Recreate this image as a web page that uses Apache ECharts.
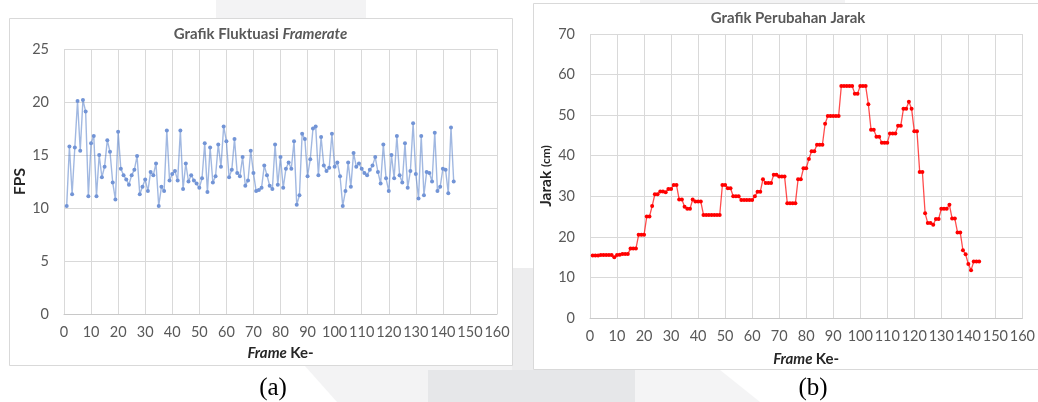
<!DOCTYPE html>
<html>
<head>
<meta charset="utf-8">
<script src="https://cdn.jsdelivr.net/npm/echarts@6/dist/echarts.min.js"></script>
<style>
  html, body { margin: 0; padding: 0; background: #fff; }
  #chart { width: 1038px; height: 402px; }
</style>
</head>
<body>
<div id="chart"></div>
<script>
// frame number for every sample (1..144)
var frames = []
for (var i = 1; i <= 144; i++) frames.push(i)

// (a) FPS per frame
var fps = [
  10.2, 15.8, 11.3, 15.7, 20.1, 15.4, 20.2, 19.1, 11.1, 16.1,
  16.8, 11.1, 15.0, 12.9, 13.9, 16.4, 15.3, 12.4, 10.8, 17.2,
  13.7, 13.1, 12.7, 12.2, 13.1, 13.6, 14.9, 11.3, 12.0, 12.7,
  11.6, 13.4, 13.1, 14.2, 10.2, 12.0, 11.6, 17.3, 12.6, 13.2,
  13.5, 12.6, 17.3, 11.8, 14.2, 12.5, 13.1, 12.6, 12.3, 11.9,
  12.8, 16.1, 11.5, 15.7, 12.4, 13.0, 16.0, 13.9, 17.7, 16.3,
  12.9, 13.6, 16.5, 13.3, 13.0, 14.8, 12.1, 12.6, 15.4, 13.3,
  11.6, 11.7, 11.9, 14.0, 13.1, 12.1, 11.8, 16.0, 12.2, 14.8,
  11.9, 13.7, 14.3, 13.7, 16.3, 10.3, 11.2, 17.0, 16.5, 13.0,
  14.6, 17.5, 17.7, 13.1, 16.7, 14.0, 13.5, 13.8, 17.0, 13.9,
  14.3, 13.0, 10.2, 11.6, 14.3, 12.0, 15.2, 13.9, 14.2, 13.7,
  13.3, 13.1, 13.6, 14.0, 14.8, 13.4, 12.3, 16.0, 12.8, 11.6,
  15.0, 12.8, 16.8, 13.1, 12.4, 16.1, 11.9, 13.5, 18.0, 13.2,
  10.9, 16.8, 11.2, 13.4, 13.3, 12.5, 17.1, 11.6, 12.0, 13.7,
  13.6, 11.4, 17.6, 12.5
]

// (b) jarak (cm) per frame
var jarak = [
  15.4, 15.4, 15.4, 15.5, 15.5, 15.5, 15.5, 15.5, 15.0, 15.5,
  15.6, 15.8, 15.8, 15.8, 17.1, 17.1, 17.1, 20.5, 20.5, 20.5,
  25.0, 25.0, 27.6, 30.5, 30.5, 31.2, 31.2, 31.0, 31.8, 31.8,
  32.8, 32.8, 29.2, 29.2, 27.4, 26.9, 26.9, 29.2, 28.7, 28.7,
  28.7, 25.4, 25.4, 25.4, 25.4, 25.4, 25.4, 25.4, 32.8, 32.8,
  32.0, 32.0, 30.0, 30.0, 30.0, 29.1, 29.1, 29.1, 29.1, 29.1,
  30.0, 31.1, 31.1, 34.2, 33.3, 33.3, 33.3, 35.3, 35.3, 34.9,
  34.9, 34.9, 28.3, 28.3, 28.3, 28.3, 34.2, 34.2, 36.9, 36.9,
  39.2, 41.1, 41.1, 42.7, 42.7, 42.7, 47.9, 49.8, 49.8, 49.8,
  49.8, 49.8, 57.2, 57.2, 57.2, 57.2, 57.2, 55.3, 55.3, 57.2,
  57.2, 57.2, 52.7, 46.4, 46.4, 44.7, 44.7, 43.2, 43.2, 43.2,
  45.5, 45.5, 45.5, 47.4, 47.4, 51.6, 51.6, 53.3, 51.6, 46.0,
  46.0, 36.0, 36.0, 25.8, 23.4, 23.4, 23.0, 24.4, 24.4, 26.9,
  26.9, 26.9, 27.9, 24.5, 24.5, 21.1, 21.1, 16.7, 15.7, 13.3,
  11.8, 13.9, 13.9, 13.9
]

var font = 'Lato, "Open Sans", sans-serif'
var labelGray = '#595959'
var gridGray = '#d9d9d9'
var nameColor = '#262626'

function pairs(ys) {
  return frames.map(function(f, i) { return [f, ys[i]] })
}

function xAxisFor(gridIndex, nameGap) {
  return {
    gridIndex: gridIndex,
    type: 'value',
    min: 0,
    max: 160,
    interval: 10,
    name: '{i|Frame} {b|Ke-}',
    nameLocation: 'middle',
    nameGap: nameGap,
    nameTextStyle: {
      rich: {
        i: { fontFamily: font, fontSize: 15, fontWeight: 'bold', fontStyle: 'italic', color: nameColor },
        b: { fontFamily: font, fontSize: 15, fontWeight: 'bold', color: nameColor }
      }
    },
    axisLine: { show: true, lineStyle: { color: '#c8c8c8', width: 1 } },
    axisTick: { show: false },
    axisLabel: { fontFamily: font, fontSize: 14.5, color: labelGray, margin: 11 },
    splitLine: { show: true, lineStyle: { color: gridGray, width: 1 } }
  }
}

var chart = echarts.init(document.getElementById('chart'), null, { renderer: 'canvas' })

chart.setOption({
  backgroundColor: '#ffffff',
  animation: false,
  grid: [
    { left: 64, top: 49, width: 433, height: 265 },
    { left: 590, top: 34, width: 439, height: 284 }
  ],
  xAxis: [xAxisFor(0, 32), xAxisFor(1, 34)],
  yAxis: [
    {
      gridIndex: 0,
      type: 'value',
      min: 0,
      max: 25,
      interval: 5,
      name: 'FPS',
      nameLocation: 'middle',
      nameGap: 33,
      nameTextStyle: { fontFamily: font, fontSize: 15.5, fontWeight: 'bold', color: nameColor },
      axisLine: { show: false },
      axisTick: { show: false },
      axisLabel: { fontFamily: font, fontSize: 14.5, color: labelGray, margin: 15 },
      splitLine: { show: true, lineStyle: { color: gridGray, width: 1 } }
    },
    {
      gridIndex: 1,
      type: 'value',
      min: 0,
      max: 70,
      interval: 10,
      name: '{a|Jarak }{b|(cm)}',
      nameLocation: 'middle',
      nameGap: 34,
      nameTextStyle: {
        rich: {
          a: { fontFamily: font, fontSize: 15.5, fontWeight: 'bold', color: nameColor },
          b: { fontFamily: font, fontSize: 12, fontWeight: 'bold', color: nameColor }
        }
      },
      axisLine: { show: false },
      axisTick: { show: false },
      axisLabel: { fontFamily: font, fontSize: 14.5, color: labelGray, margin: 15 },
      splitLine: { show: true, lineStyle: { color: gridGray, width: 1 } }
    }
  ],
  series: [
    {
      name: 'FPS',
      type: 'line',
      xAxisIndex: 0,
      yAxisIndex: 0,
      data: pairs(fps),
      symbol: 'circle',
      symbolSize: 4,
      showAllSymbol: true,
      itemStyle: { color: '#7294d6' },
      lineStyle: { color: 'rgba(68,114,196,0.5)', width: 1.4 }
    },
    {
      name: 'Jarak',
      type: 'line',
      xAxisIndex: 1,
      yAxisIndex: 1,
      data: pairs(jarak),
      symbol: 'circle',
      symbolSize: 4,
      showAllSymbol: true,
      itemStyle: { color: '#ff0000' },
      lineStyle: { color: 'rgba(255,0,0,0.7)', width: 1.3 }
    }
  ],
  graphic: [
    // faint watermark shapes behind the two charts
    { type: 'rect', z: -20, shape: { x: 216, y: 0, width: 150, height: 18 }, style: { fill: '#f3f3f4' } },
    { type: 'rect', z: -20, shape: { x: 640, y: 0, width: 205, height: 4 }, style: { fill: '#f3f3f4' } },
    { type: 'rect', z: -20, shape: { x: 512, y: 268, width: 21, height: 134 }, style: { fill: '#ededee' } },
    { type: 'polygon', z: -20, shape: { points: [[305, 366], [512, 366], [512, 402], [337, 402]] }, style: { fill: '#f3f3f4' } },
    { type: 'rect', z: -19, shape: { x: 428, y: 370, width: 207, height: 32 }, style: { fill: '#e6e7e9' } },
    { type: 'polygon', z: -20, shape: { points: [[635, 370], [720, 370], [760, 402], [635, 402]] }, style: { fill: '#f4f4f5' } },
    // chart frames
    { type: 'rect', z: -10, shape: { x: 9.5, y: 18.5, width: 503, height: 347 }, style: { fill: '#ffffff', stroke: '#d9d9d9', lineWidth: 1 } },
    { type: 'rect', z: -10, shape: { x: 533.5, y: 3.5, width: 520, height: 366 }, style: { fill: '#ffffff', stroke: '#d9d9d9', lineWidth: 1 } },
    // chart titles
    {
      type: 'text', x: 260.5, y: 34,
      style: {
        text: '{n|Grafik Fluktuasi }{i|Framerate}',
        align: 'center', verticalAlign: 'middle',
        rich: {
          n: { fontFamily: font, fontSize: 15, fontWeight: 'bold', fill: labelGray },
          i: { fontFamily: font, fontSize: 15, fontWeight: 'bold', fontStyle: 'italic', fill: labelGray }
        }
      }
    },
    {
      type: 'text', x: 788, y: 18,
      style: {
        text: 'Grafik Perubahan Jarak',
        align: 'center', verticalAlign: 'middle',
        fontFamily: font, fontSize: 15, fontWeight: 'bold', fill: labelGray
      }
    },
    // captions below the charts
    {
      type: 'text', x: 273, y: 388,
      style: { text: '(a)', align: 'center', verticalAlign: 'middle', fontFamily: '"Liberation Serif", serif', fontSize: 25, fill: '#000' }
    },
    {
      type: 'text', x: 813, y: 388,
      style: { text: '(b)', align: 'center', verticalAlign: 'middle', fontFamily: '"Liberation Serif", serif', fontSize: 25, fill: '#000' }
    }
  ]
})
</script>
</body>
</html>
